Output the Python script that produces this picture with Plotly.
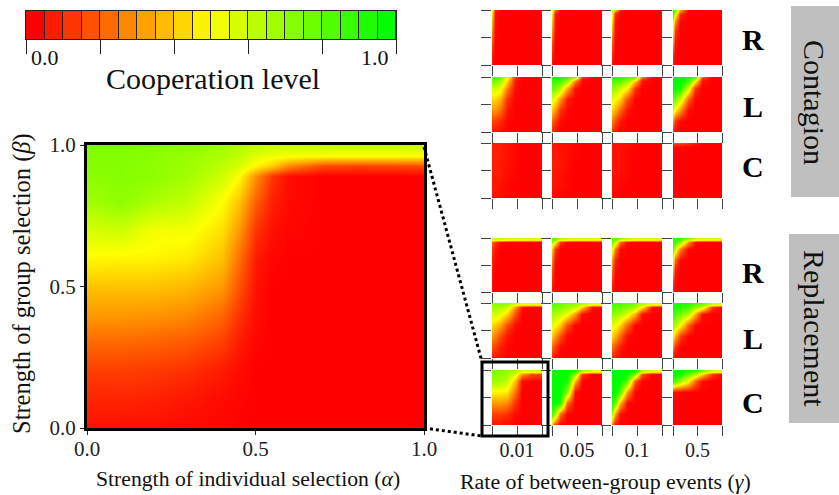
import plotly.graph_objects as go

W, H = 839, 495
SERIF = "Liberation Serif"
COLORSCALE = [[0, "#ff0000"], [0.5, "#ffff00"], [1, "#00ff00"]]

# ---- main panel (gamma = 0.01, Replacement / C) ----
main_alpha = [0, .1, .2, .3, .4, .45, .5, .55, .6, .7, .8, 1]
main_beta = [0, .1, .2, .3, .4, .5, .6, .7, .8, .89, .925, .96, 1]
main_z = [
    [.03, .03, .03, .02, .01, 0, 0, 0, 0, 0, 0, 0],
    [.07, .07, .06, .04, .02, .01, 0, 0, 0, 0, 0, 0],
    [.12, .12, .11, .09, .05, .02, 0, 0, 0, 0, 0, 0],
    [.20, .20, .19, .17, .12, .05, .01, 0, 0, 0, 0, 0],
    [.30, .30, .29, .27, .20, .10, .02, 0, 0, 0, 0, 0],
    [.38, .38, .38, .36, .30, .16, .03, 0, 0, 0, 0, 0],
    [.49, .48, .48, .46, .38, .22, .05, .01, 0, 0, 0, 0],
    [.58, .60, .52, .52, .44, .30, .10, .03, .01, 0, 0, 0],
    [.68, .72, .66, .62, .50, .38, .18, .06, .02, 0, 0, 0],
    [.72, .74, .72, .68, .60, .50, .28, .10, .02, 0, 0, 0],
    [.74, .74, .72, .69, .63, .58, .48, .40, .26, .14, .12, .14],
    [.74, .75, .73, .70, .66, .62, .56, .53, .51, .50, .50, .50],
    [.76, .76, .74, .72, .70, .66, .63, .62, .62, .62, .62, .62],
]

# ---- small panels ----
alpha_s = [0, .05, .15, .3, .45, .6, .8, 1]
beta_s = [1, .97, .92, .8, .6, .4, .2, 0]  # rows run top to bottom
gamma_labels = ["0.01", "0.05", "0.1", "0.5"]
row_labels = ["R", "L", "C", "R", "L", "C"]

contagion_R = [
    [[.5,.08,0,0,0,0,0,0],[.45,.04,0,0,0,0,0,0],[.42,.03,0,0,0,0,0,0],[.35,.02,0,0,0,0,0,0],[.25,.01,0,0,0,0,0,0],[.15,0,0,0,0,0,0,0],[.06,0,0,0,0,0,0,0],[.02,0,0,0,0,0,0,0]],
    [[.6,.2,.02,0,0,0,0,0],[.5,.1,0,0,0,0,0,0],[.45,.05,0,0,0,0,0,0],[.38,.03,0,0,0,0,0,0],[.28,.01,0,0,0,0,0,0],[.16,0,0,0,0,0,0,0],[.07,0,0,0,0,0,0,0],[.02,0,0,0,0,0,0,0]],
    [[.7,.4,.06,0,0,0,0,0],[.6,.18,.01,0,0,0,0,0],[.5,.08,0,0,0,0,0,0],[.42,.04,0,0,0,0,0,0],[.3,.02,0,0,0,0,0,0],[.18,0,0,0,0,0,0,0],[.08,0,0,0,0,0,0,0],[.02,0,0,0,0,0,0,0]],
    [[.95,.8,.3,.02,0,0,0,0],[.9,.7,.2,0,0,0,0,0],[.85,.55,.08,0,0,0,0,0],[.6,.28,.01,0,0,0,0,0],[.45,.1,0,0,0,0,0,0],[.3,.03,0,0,0,0,0,0],[.12,0,0,0,0,0,0,0],[.05,0,0,0,0,0,0,0]],
]
contagion_L = [
    [[.85,.85,.8,.55,.1,0,0,0],[.8,.82,.75,.5,.06,0,0,0],[.75,.78,.68,.42,.04,0,0,0],[.6,.6,.55,.25,.02,0,0,0],[.42,.42,.35,.1,0,0,0,0],[.3,.3,.22,.04,0,0,0,0],[.12,.12,.08,.01,0,0,0,0],[.04,.04,.02,0,0,0,0,0]],
    [[.95,.95,.92,.85,.72,.1,0,0],[.92,.92,.9,.8,.5,.04,0,0],[.9,.9,.85,.7,.25,.01,0,0],[.8,.78,.65,.35,.03,0,0,0],[.55,.5,.3,.05,0,0,0,0],[.4,.3,.1,.01,0,0,0,0],[.2,.12,.02,0,0,0,0,0],[.06,.02,0,0,0,0,0,0]],
    [[.9,.9,.9,.85,.8,.25,0,0],[.88,.88,.88,.8,.65,.1,0,0],[.85,.85,.8,.7,.4,.03,0,0],[.72,.7,.6,.5,.1,0,0,0],[.55,.5,.42,.15,0,0,0,0],[.42,.35,.2,.03,0,0,0,0],[.25,.15,.04,0,0,0,0,0],[.08,.03,0,0,0,0,0,0]],
    [[1,1,1,.95,.85,.2,0,0],[1,1,1,.92,.7,.08,0,0],[1,1,1,.9,.5,.03,0,0],[1,1,.95,.6,.1,0,0,0],[.82,.75,.6,.2,0,0,0,0],[.55,.5,.3,.02,0,0,0,0],[.3,.1,.01,0,0,0,0,0],[.05,.01,0,0,0,0,0,0]],
]
contagion_C = [
    [[.05,.05,.05,.03,.01,0,0,0],[.05,.05,.05,.03,.01,0,0,0],[.05,.05,.05,.03,.01,0,0,0],[.06,.06,.05,.03,.01,0,0,0],[.06,.06,.05,.03,.01,0,0,0],[.05,.05,.05,.02,.01,0,0,0],[.04,.04,.03,.01,0,0,0,0],[.03,.03,.02,.01,0,0,0,0]],
    [[.03,.04,.03,.02,.01,0,0,0],[.03,.04,.03,.02,.01,0,0,0],[.03,.04,.03,.02,.01,0,0,0],[.04,.05,.04,.02,.01,0,0,0],[.05,.05,.04,.02,0,0,0,0],[.04,.04,.03,.01,0,0,0,0],[.03,.03,.02,.01,0,0,0,0],[.02,.01,.01,0,0,0,0,0]],
    [[.03,.03,.03,.02,.01,0,0,0],[.03,.03,.03,.02,.01,0,0,0],[.03,.03,.03,.02,.01,0,0,0],[.03,.04,.03,.01,0,0,0,0],[.04,.04,.03,.01,0,0,0,0],[.03,.03,.02,.01,0,0,0,0],[.03,.02,.01,0,0,0,0,0],[.01,.01,0,0,0,0,0,0]],
    [[.15,.15,.15,.1,.05,0,0,0],[.06,.06,.06,.04,.02,0,0,0],[.01,.01,.01,0,0,0,0,0],[.01,0,0,0,0,0,0,0],[.01,0,0,0,0,0,0,0],[.01,0,0,0,0,0,0,0],[0,0,0,0,0,0,0,0],[0,0,0,0,0,0,0,0]],
]
replacement_R = [
    [[.6,.65,.62,.6,.6,.6,.6,.6],[.5,.52,.5,.48,.45,.45,.45,.45],[.2,.1,.02,0,0,0,0,0],[.12,.03,0,0,0,0,0,0],[.06,.01,0,0,0,0,0,0],[.04,0,0,0,0,0,0,0],[.02,0,0,0,0,0,0,0],[.01,0,0,0,0,0,0,0]],
    [[.85,.8,.65,.62,.6,.6,.6,.6],[.8,.7,.52,.48,.45,.45,.45,.45],[.7,.5,.1,0,0,0,0,0],[.4,.1,0,0,0,0,0,0],[.25,.02,0,0,0,0,0,0],[.15,0,0,0,0,0,0,0],[.08,0,0,0,0,0,0,0],[.03,0,0,0,0,0,0,0]],
    [[.85,.85,.7,.65,.6,.6,.6,.6],[.85,.75,.55,.5,.45,.45,.45,.45],[.78,.62,.2,.02,0,0,0,0],[.55,.25,.02,0,0,0,0,0],[.3,.06,0,0,0,0,0,0],[.2,.02,0,0,0,0,0,0],[.1,0,0,0,0,0,0,0],[.03,0,0,0,0,0,0,0]],
    [[.9,.9,.9,.75,.62,.6,.6,.6],[.9,.9,.85,.55,.48,.45,.45,.45],[.9,.88,.7,.3,.02,0,0,0],[.8,.6,.25,.01,0,0,0,0],[.5,.2,.01,0,0,0,0,0],[.35,.05,0,0,0,0,0,0],[.15,.01,0,0,0,0,0,0],[.05,0,0,0,0,0,0,0]],
]
replacement_L = [
    [[.72,.72,.72,.72,.62,.55,.55,.55],[.7,.72,.72,.68,.5,.45,.45,.45],[.68,.68,.66,.6,.3,.02,0,0],[.58,.6,.55,.42,.15,0,0,0],[.42,.4,.32,.15,.02,0,0,0],[.3,.25,.15,.04,0,0,0,0],[.15,.12,.06,.01,0,0,0,0],[.05,.04,.02,0,0,0,0,0]],
    [[.82,.82,.8,.75,.72,.65,.55,.55],[.8,.8,.78,.72,.7,.6,.45,.45],[.78,.78,.75,.7,.65,.4,.03,0],[.68,.66,.62,.52,.3,.02,0,0],[.55,.5,.4,.15,0,0,0,0],[.4,.3,.15,.01,0,0,0,0],[.2,.12,.02,0,0,0,0,0],[.06,.03,0,0,0,0,0,0]],
    [[.85,.85,.85,.82,.75,.65,.55,.55],[.85,.85,.82,.8,.72,.6,.45,.45],[.82,.8,.8,.75,.68,.45,.03,0],[.72,.72,.68,.55,.35,.02,0,0],[.55,.52,.42,.2,0,0,0,0],[.42,.35,.2,.02,0,0,0,0],[.22,.15,.05,0,0,0,0,0],[.07,.03,0,0,0,0,0,0]],
    [[.95,.95,.95,.92,.85,.8,.6,.55],[.95,.95,.95,.9,.8,.75,.52,.45],[.95,.95,.92,.88,.72,.6,.1,0],[.88,.85,.78,.65,.35,.03,0,0],[.72,.65,.5,.2,.01,0,0,0],[.5,.35,.12,0,0,0,0,0],[.25,.08,0,0,0,0,0,0],[.05,0,0,0,0,0,0,0]],
]
replacement_C = [
    [[.76,.76,.75,.72,.66,.6,.6,.6],[.74,.75,.74,.7,.63,.52,.5,.5],[.74,.74,.73,.69,.58,.28,.14,.14],[.68,.7,.68,.62,.38,.02,0,0],[.49,.48,.48,.46,.22,0,0,0],[.3,.3,.3,.27,.1,0,0,0],[.12,.12,.12,.09,.02,0,0,0],[.03,.03,.03,.02,0,0,0,0]],
    [[1,1,1,1,.95,.7,.55,.55],[1,1,1,1,.9,.55,.45,.45],[1,1,1,1,.75,.1,0,0],[1,1,1,.98,.35,0,0,0],[1,1,1,.75,.02,0,0,0],[1,1,.95,.2,0,0,0,0],[.85,.7,.2,0,0,0,0,0],[.35,.1,0,0,0,0,0,0]],
    [[1,1,1,1,.95,.7,.55,.55],[1,1,1,1,.9,.55,.45,.45],[1,1,1,1,.75,.15,0,0],[1,1,1,.85,.15,0,0,0],[1,1,.85,.3,0,0,0,0],[.95,.8,.35,.02,0,0,0,0],[.7,.3,.02,0,0,0,0,0],[.2,.03,0,0,0,0,0,0]],
    [[1,1,1,.95,.9,.8,.6,.55],[1,1,.98,.9,.8,.65,.5,.45],[1,1,.95,.8,.65,.42,.1,0],[.95,.85,.7,.5,.2,.02,0,0],[.02,.02,.01,0,0,0,0,0],[0,0,0,0,0,0,0,0],[0,0,0,0,0,0,0,0],[0,0,0,0,0,0,0,0]],
]
panel_rows = [contagion_R, contagion_L, contagion_C, replacement_R, replacement_L, replacement_C]

# ---- colour key ----
key_steps = list(range(20))
key_ticks = [0, .2, .4, .6, .8, 1]

# ---- layout in page pixels ----
col_px = [(492, 542), (552, 602), (612, 662), (673, 722)]
row_px = [(10, 65), (77, 132), (143, 198), (238, 292), (303, 358), (370, 425)]
row_label_y = [40, 106, 167, 272, 338, 402]


def fx(p):
    return p / W


def fy(p):
    return 1 - p / H


fig = go.Figure()
layout = {}
n_axis = 0


def add_axes(x0, x1, y0, y1, xopts, yopts):
    global n_axis
    n_axis += 1
    s = "" if n_axis == 1 else str(n_axis)
    layout["xaxis" + s] = dict(domain=[fx(x0), fx(x1)], anchor="y" + s, range=[0, 1], showgrid=False,
                               zeroline=False, fixedrange=True, automargin=False, **xopts)
    layout["yaxis" + s] = dict(domain=[fy(y1), fy(y0)], anchor="x" + s, range=[0, 1], showgrid=False,
                               zeroline=False, fixedrange=True, automargin=False, **yopts)
    return "x" + s, "y" + s


# main panel
main_tick = dict(tickvals=[0, .5, 1], ticktext=["0.0", "0.5", "1.0"], ticks="outside", ticklen=4, tickwidth=1,
                 tickcolor="#222", showline=True, mirror=True, linecolor="black", linewidth=3,
                 tickfont=dict(family=SERIF, size=21, color="#222"))
xa, ya = add_axes(87, 424, 145, 428, dict(main_tick, ticklabelstandoff=-4), main_tick)
fig.add_trace(go.Heatmap(x=main_alpha, y=main_beta, z=main_z, xaxis=xa, yaxis=ya, zsmooth="best",
                         colorscale=COLORSCALE, zmin=0, zmax=1, showscale=False, hoverinfo="skip"))

# small panels
for r, row in enumerate(panel_rows):
    for c, z in enumerate(row):
        bottom = r == len(panel_rows) - 1
        xopts = dict(tickvals=[0, .5, 1], ticktext=["", gamma_labels[c], ""] if bottom else ["", "", ""],
                     ticks="outside", ticklen=10, tickwidth=1, tickcolor="#444", ticklabelstandoff=-3,
                     tickfont=dict(family=SERIF, size=20, color="#222"))
        yopts = dict(tickvals=[0, .5, 1], showticklabels=False, ticks="outside", ticklen=10, tickwidth=1,
                     tickcolor="#444")
        xa, ya = add_axes(col_px[c][0], col_px[c][1], row_px[r][0], row_px[r][1], xopts, yopts)
        fig.add_trace(go.Heatmap(x=alpha_s, y=beta_s, z=z, xaxis=xa, yaxis=ya, zsmooth="best",
                                 colorscale=COLORSCALE, zmin=0, zmax=1, showscale=False, hoverinfo="skip"))

# colour key
xopts = dict(tickvals=key_ticks, showticklabels=False, ticks="outside", ticklen=14, tickwidth=1, tickcolor="#222",
             showline=True, mirror=True, linecolor="#222", linewidth=1)
yopts = dict(showticklabels=False, ticks="", showline=True, mirror=True, linecolor="#222", linewidth=1)
xa, ya = add_axes(26, 396, 11, 39, xopts, yopts)
fig.add_trace(go.Heatmap(x=[(i + .5) / 20 for i in key_steps], y=[.5], z=[[i / 19 for i in key_steps]], xaxis=xa,
                         yaxis=ya, xgap=1, colorscale=COLORSCALE, zmin=0, zmax=1, showscale=False,
                         hoverinfo="skip"))
layout[f"xaxis{n_axis}"]["layer"] = "above traces"


def text(x, y, s, size, **kw):
    return dict(xref="paper", yref="paper", x=fx(x), y=fy(y), text=s, showarrow=False, xanchor="center",
                yanchor="middle", font=dict(family=SERIF, size=size, color=kw.pop("color", "#111")), **kw)


annotations = [
    text(45, 58, "0.0", 22),
    text(375, 58, "1.0", 22),
    text(213, 78, "Cooperation level", 30),
    text(248, 479, "Strength of individual selection (<i>α</i>)", 21.7),
    text(22, 284, "Strength of group selection (<i>β</i>)", 24.5, textangle=-90),
    text(605, 481, "Rate of between-group events (<i>γ</i>)", 21.9),
    text(815, 102, "Contagion", 30, textangle=90),
    text(815, 328, "Replacement", 30, textangle=90),
]
for lab, y in zip(row_labels, row_label_y):
    annotations.append(text(753, y, f"<b>{lab}</b>", 30, color="#000"))

shapes = [
    dict(type="rect", xref="paper", yref="paper", x0=fx(791), x1=fx(839), y0=fy(6), y1=fy(197),
         fillcolor="#bfbfbf", line_width=0, layer="below"),
    dict(type="rect", xref="paper", yref="paper", x0=fx(789), x1=fx(839), y0=fy(234), y1=fy(423),
         fillcolor="#bfbfbf", line_width=0, layer="below"),
    dict(type="rect", xref="paper", yref="paper", x0=fx(482), x1=fx(548), y0=fy(362), y1=fy(436),
         line=dict(color="black", width=3)),
    dict(type="line", xref="paper", yref="paper", x0=fx(424), y0=fy(147), x1=fx(482), y1=fy(362),
         line=dict(color="black", width=3, dash="dot")),
    dict(type="line", xref="paper", yref="paper", x0=fx(424), y0=fy(428), x1=fx(482), y1=fy(436),
         line=dict(color="black", width=3, dash="dot")),
]

fig.update_layout(width=W, height=H, margin=dict(l=0, r=0, t=0, b=0), paper_bgcolor="white",
                  plot_bgcolor="#222", showlegend=False, annotations=annotations, shapes=shapes, **layout)
fig.write_html("out.html", config=dict(displayModeBar=False),
               post_script="document.body.style.margin='0';document.documentElement.style.overflow='hidden';")
